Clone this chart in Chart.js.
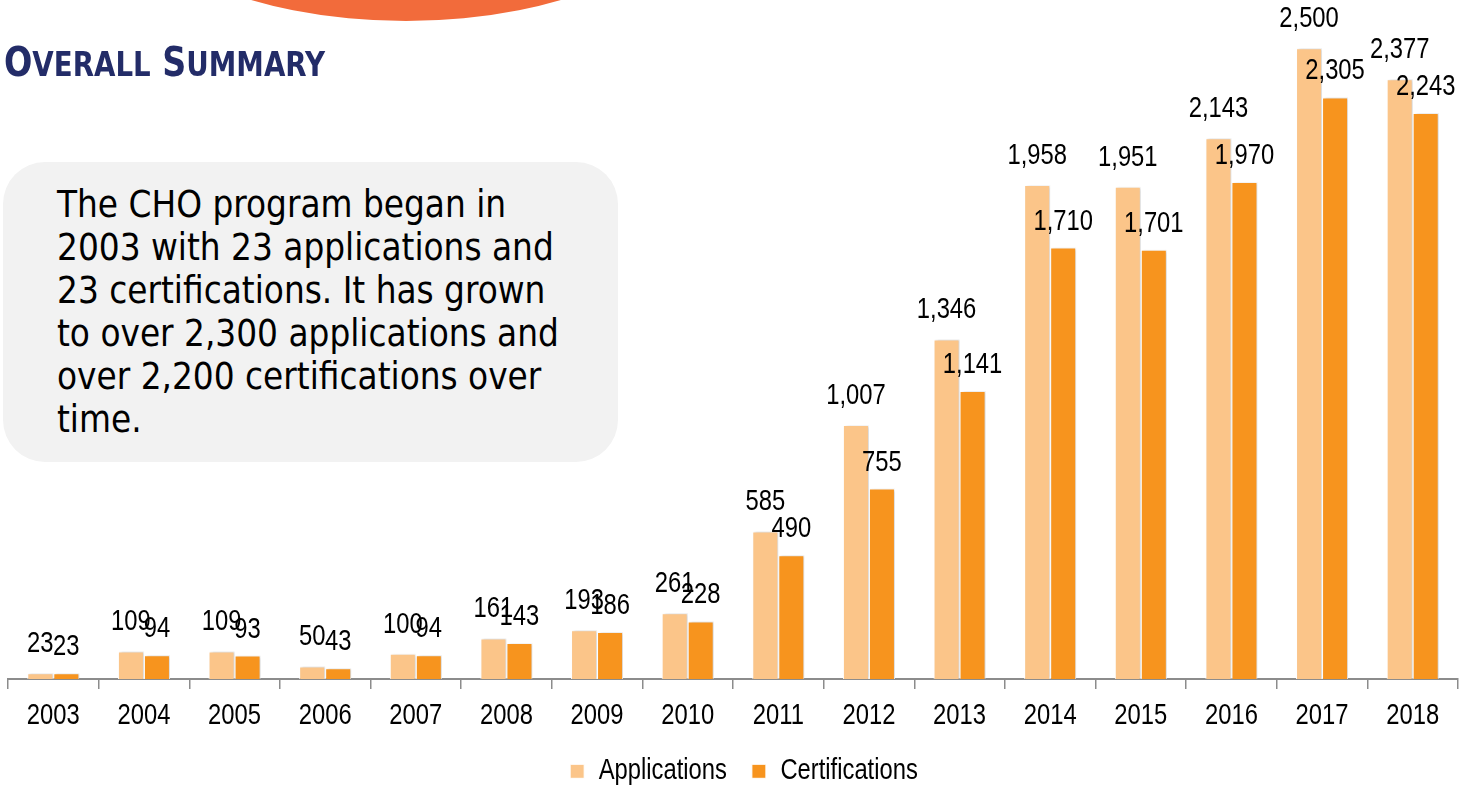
<!DOCTYPE html>
<html>
<head>
<meta charset="utf-8">
<script src="https://cdn.jsdelivr.net/npm/chart.js@4.4.1/dist/chart.umd.min.js"></script>
<style>
html,body{margin:0;padding:0;background:#fff;width:1471px;height:786px;overflow:hidden;}
#stage{position:relative;width:1471px;height:786px;}
#c{position:absolute;left:0;top:0;}
#blob{position:absolute;left:111px;top:-261px;width:590px;height:282px;border-radius:50%;background:#F26B3B;}
#title{position:absolute;left:4px;top:38px;color:#232C68;font-family:"DejaVu Sans Condensed","DejaVu Sans",sans-serif;font-weight:bold;font-size:41px;line-height:48px;white-space:nowrap;transform-origin:0 0;}
#title .sc{font-size:34px;}
#box{position:absolute;left:3px;top:162px;width:615px;height:300px;border-radius:42px;background:#F2F2F2;}
#box p{margin:0;position:absolute;left:54px;top:21px;font-family:"DejaVu Sans Condensed","DejaVu Sans",sans-serif;font-size:36.5px;line-height:43px;color:#000;white-space:nowrap;}
</style>
</head>
<body>
<div id="stage">
  <canvas id="c" width="1471" height="786"></canvas>
  <div id="blob"></div>
  <div id="title">O<span class="sc">VERALL</span> S<span class="sc">UMMARY</span></div>
  <div id="box"><p>The CHO program began in<br>2003 with 23 applications and<br>23 certifications. It has grown<br>to over 2,300 applications and<br>over 2,200 certifications over<br>time.</p></div>
</div>
<script>
const years = ['2003','2004','2005','2006','2007','2008','2009','2010','2011','2012','2013','2014','2015','2016','2017','2018'];
const applications = [23,109,109,50,100,161,193,261,585,1007,1346,1958,1951,2143,2500,2377];
const certifications = [23,94,93,43,94,143,186,228,490,755,1141,1710,1701,1970,2305,2243];
const seriesNames = ['Applications','Certifications'];
const seriesColors = ['#FBC589','#F7941E'];

// fit title width to reference
(function(){
  const t=document.getElementById('title');
  const w=t.getBoundingClientRect().width;
  t.style.transform='scaleX('+(321/w)+')';
})();

// narrow text rendering (Arial Narrow look) on the chart canvas
const FONT='Liberation Sans', FS=29, SX=0.82;
const canvas=document.getElementById('c');
const ctx2d=canvas.getContext('2d');
const origFill=ctx2d.fillText.bind(ctx2d), origMeasure=ctx2d.measureText.bind(ctx2d);
ctx2d.fillText=function(t,x,y,mw){
  this.save(); this.translate(x,y); this.scale(SX,1);
  if (mw===undefined || mw===null || isNaN(mw)) origFill(t,0,0); else origFill(t,0,0,mw/SX);
  this.restore();
};
ctx2d.measureText=function(t){
  const m=origMeasure(t);
  return {width:m.width*SX,
    actualBoundingBoxAscent:m.actualBoundingBoxAscent, actualBoundingBoxDescent:m.actualBoundingBoxDescent,
    actualBoundingBoxLeft:m.actualBoundingBoxLeft*SX, actualBoundingBoxRight:m.actualBoundingBoxRight*SX,
    fontBoundingBoxAscent:m.fontBoundingBoxAscent, fontBoundingBoxDescent:m.fontBoundingBoxDescent};
};

const shadowPlugin={
  id:'barShadow',
  beforeDatasetsDraw(chart){
    const ctx=chart.ctx; ctx.save();
    ctx.shadowColor='rgba(0,0,0,0.18)'; ctx.shadowBlur=3; ctx.shadowOffsetX=2; ctx.shadowOffsetY=0;
  },
  afterDatasetsDraw(chart){ chart.ctx.restore(); }
};
const labelOffsets=[29,26];
const valueLabels={
  id:'valueLabels',
  afterDatasetsDraw(chart){
    const ctx=chart.ctx; ctx.save();
    ctx.font=FS+'px "'+FONT+'"'; ctx.fillStyle='#000'; ctx.textAlign='center'; ctx.textBaseline='middle';
    chart.data.datasets.forEach((ds,i)=>{
      const meta=chart.getDatasetMeta(i);
      meta.data.forEach((bar,j)=>{
        ctx.fillText(ds.data[j].toLocaleString('en-US'), bar.x, bar.y-labelOffsets[i]);
      });
    });
    ctx.restore();
  }
};
const legendShift={
  id:'legendShift',
  afterLayout(chart){
    if(chart.legend){
      chart.legend.left+=11; chart.legend.right+=11;
      chart.legend.top-=12; chart.legend.bottom-=12;
    }
  }
};

const chart=new Chart(ctx2d,{
  type:'bar',
  data:{
    labels:years,
    datasets:[
      {label:seriesNames[0],data:applications,backgroundColor:seriesColors[0],borderColor:'#ffffff',borderWidth:1,barPercentage:1,categoryPercentage:0.574},
      {label:seriesNames[1],data:certifications,backgroundColor:seriesColors[1],borderColor:'#ffffff',borderWidth:1,barPercentage:1,categoryPercentage:0.574}
    ]
  },
  options:{
    responsive:false, animation:false, devicePixelRatio:1,
    layout:{padding:{left:8,right:13,top:23,bottom:0}},
    plugins:{
      legend:{position:'bottom',labels:{boxWidth:14,boxHeight:14,padding:25,color:'#000',font:{family:FONT,size:FS}}},
      tooltip:{enabled:false}
    },
    scales:{
      x:{offset:true,
         grid:{display:true,drawOnChartArea:false,offset:true,tickLength:10,color:'#8C8C8C',lineWidth:1.5},
         border:{display:true,color:'#8C8C8C',width:2},
         ticks:{color:'#000',font:{family:FONT,size:FS},padding:10,maxRotation:0,autoSkip:false}},
      y:{display:false,min:0,max:2600}
    }
  },
  plugins:[shadowPlugin,valueLabels,legendShift]
});
const dB=chart.chartArea.bottom-679;
if (Math.abs(dB)>0.5){ chart.options.layout.padding.bottom+=dB; chart.update(); }
</script>
</body>
</html>
